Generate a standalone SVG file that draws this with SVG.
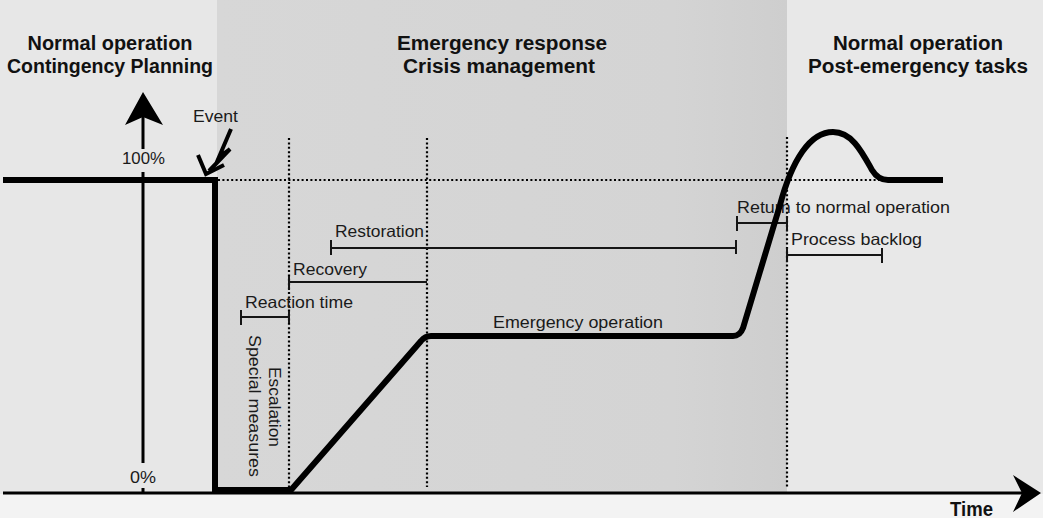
<svg xmlns="http://www.w3.org/2000/svg" width="1043" height="518" viewBox="0 0 1043 518">
  <defs>
    <linearGradient id="midShade" x1="0" y1="0" x2="1" y2="0">
      <stop offset="0" stop-color="#d7d7d7"/>
      <stop offset="0.8" stop-color="#d4d4d4"/>
      <stop offset="1" stop-color="#cecece"/>
    </linearGradient>
    <style>
      .title { font-family: "Liberation Sans", Arial, sans-serif; font-weight: bold; font-size: 20px; fill: #111; }
      .lbl { font-family: "Liberation Sans", Arial, sans-serif; font-size: 16.5px; fill: #1a1a1a; }
      .axis { stroke: #000; stroke-width: 3; fill: none; }
      .thick { stroke: #000; stroke-width: 6; fill: none; }
      .dot { stroke: #000; stroke-width: 2.2; stroke-dasharray: 2 2.4; fill: none; }
      .bar { stroke: #151515; stroke-width: 2; fill: none; }
    </style>
  </defs>

  <!-- phase panels -->
  <g id="panels">
    <rect x="0" y="0" width="1043" height="518" fill="#f3f3f3"/>
    <rect x="0" y="0" width="217" height="494" fill="#e7e7e7"/>
    <rect x="217" y="0" width="570" height="494" fill="url(#midShade)"/>
    <rect x="787" y="0" width="256" height="494" fill="#e8e8e8"/>
  </g>

  <!-- phase titles -->
  <g id="title-left">
    <text class="title" x="110" y="50" text-anchor="middle" textLength="165" lengthAdjust="spacingAndGlyphs">Normal operation</text>
    <text class="title" x="110" y="73" text-anchor="middle" textLength="206" lengthAdjust="spacingAndGlyphs">Contingency Planning</text>
  </g>
  <g id="title-middle">
    <text class="title" x="502" y="50" text-anchor="middle" textLength="210" lengthAdjust="spacingAndGlyphs">Emergency response</text>
    <text class="title" x="499" y="73" text-anchor="middle" textLength="192" lengthAdjust="spacingAndGlyphs">Crisis management</text>
  </g>
  <g id="title-right">
    <text class="title" x="918" y="50" text-anchor="middle" textLength="170" lengthAdjust="spacingAndGlyphs">Normal operation</text>
    <text class="title" x="918" y="73" text-anchor="middle" textLength="220" lengthAdjust="spacingAndGlyphs">Post-emergency tasks</text>
  </g>

  <!-- reference lines -->
  <g id="guides">
    <path class="dot" d="M218,180 H880"/>
    <path class="dot" d="M289,138 V487"/>
    <path class="dot" d="M427,138 V487"/>
    <path class="dot" d="M787,137 V487"/>
  </g>

  <!-- axes -->
  <g id="axes">
    <path class="axis" d="M3,493 H1024"/>
    <path d="M1041,493 L1013,475 L1022,493 L1013,512 Z" fill="#000"/>
    <path class="axis" d="M143,116 V149 M143,172 V463 M143,488 V493"/>
    <path d="M143,92 L125,125 L143,117 L163,125 Z" fill="#000"/>
    <text class="lbl" x="122" y="164" textLength="43" lengthAdjust="spacingAndGlyphs">100%</text>
    <text class="lbl" x="130" y="483" textLength="26" lengthAdjust="spacingAndGlyphs">0%</text>
    <text class="title" x="950" y="516" font-size="17.5" textLength="43" lengthAdjust="spacingAndGlyphs">Time</text>
  </g>

  <!-- event marker -->
  <g id="event">
    <text class="lbl" x="193" y="122" textLength="45" lengthAdjust="spacingAndGlyphs">Event</text>
    <path d="M231,129 L219,157 L230,149 L209,171" stroke="#000" stroke-width="4" fill="none"/>
    <path d="M198,155 L206,174 L224,165" stroke="#000" stroke-width="4" fill="none"/>
  </g>

  <!-- intervals -->
  <g id="interval-reaction">
    <text class="lbl" x="245" y="308" textLength="108" lengthAdjust="spacingAndGlyphs">Reaction time</text>
    <path class="bar" d="M241,317 H289 M241,310 V325 M289,311 V323"/>
  </g>
  <g id="interval-recovery">
    <text class="lbl" x="293" y="275" textLength="74" lengthAdjust="spacingAndGlyphs">Recovery</text>
    <path class="bar" d="M289,282 H427 M289,276 V290"/>
  </g>
  <g id="interval-restoration">
    <text class="lbl" x="335" y="237" textLength="89" lengthAdjust="spacingAndGlyphs">Restoration</text>
    <path class="bar" d="M331,248 H736 M331,240 V255 M736,240 V254"/>
  </g>
  <g id="interval-return">
    <text class="lbl" x="737" y="213" textLength="213" lengthAdjust="spacingAndGlyphs">Return to normal operation</text>
    <path class="bar" d="M737,223 H787 M737,216 V231 M787,216 V231"/>
  </g>
  <g id="interval-backlog">
    <text class="lbl" x="791" y="245" textLength="131" lengthAdjust="spacingAndGlyphs">Process backlog</text>
    <path class="bar" d="M787,255 H882 M787,248 V262 M882,248 V263"/>
  </g>
  <g id="label-special">
    <text class="lbl" transform="translate(249,335) rotate(90)" x="0" y="0" textLength="142" lengthAdjust="spacingAndGlyphs">Special measures</text>
  </g>
  <g id="label-escalation">
    <text class="lbl" transform="translate(269,367) rotate(90)" x="0" y="0" textLength="80" lengthAdjust="spacingAndGlyphs">Escalation</text>
  </g>
  <g id="label-emergency">
    <text class="lbl" x="493" y="328" textLength="170" lengthAdjust="spacingAndGlyphs">Emergency operation</text>
  </g>

  <!-- operating level -->
  <g id="level-curve">
    <path class="thick" d="M3,180 H215 V490 H291 L421,341 Q425,336 431,336 L733,336 Q740,336 743,328 L780,205 C792,160 810,132 833,132 C852,132 862,152 872,170 Q878,180 888,180 L943,180" stroke-linejoin="miter"/>
  </g>
</svg>
